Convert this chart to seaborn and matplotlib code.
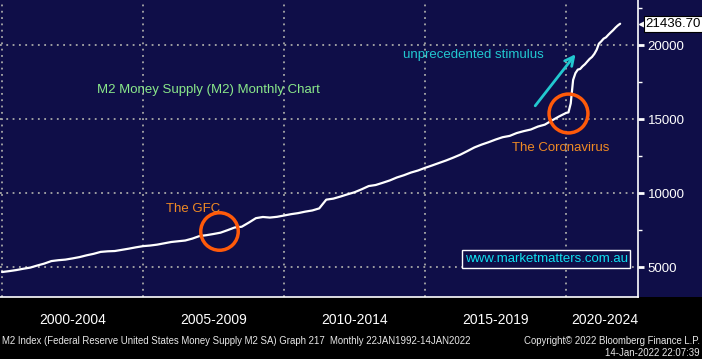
import matplotlib
matplotlib.use('Agg')
import matplotlib.pyplot as plt
import matplotlib.dates as mdates
import matplotlib.transforms as mtransforms
from matplotlib.patches import Rectangle
from matplotlib.ticker import MultipleLocator
import pandas
import seaborn as sns

# M2 money supply (USD bn), quarterly to 2019, then monthly through the covid jump
datas_trimestrais = pandas.date_range('2000-01-01', '2019-10-01', freq='QS')
valores_trimestrais = [
    4660, 4720, 4790, 4880,
    4960, 5100, 5230, 5400,
    5460, 5500, 5580, 5670,
    5790, 5890, 6020, 6060,
    6080, 6160, 6240, 6330,
    6410, 6450, 6510, 6600,
    6690, 6740, 6790, 6920,
    7090, 7150, 7230, 7320,
    7490, 7670, 7720, 8000,
    8300, 8380, 8340, 8390,
    8480, 8570, 8640, 8740,
    8820, 8960, 9550, 9620,
    9760, 9910, 10050, 10250,
    10470, 10540, 10690, 10850,
    11050, 11200, 11380, 11520,
    11700, 11860, 12030, 12200,
    12390, 12590, 12830, 13080,
    13270, 13430, 13610, 13770,
    13860, 14050, 14180, 14290,
    14490, 14620, 14900, 15170,
]
datas_mensais = pandas.date_range('2020-01-01', '2021-12-01', freq='MS')
valores_mensais = [
    15410, 15450, 16050, 17640, 18100, 18340, 18380, 18560, 18700, 18880, 19060, 19190,
    19400, 19690, 20090, 20250, 20430, 20520, 20690, 20850, 21000, 21170, 21320, 21436.70,
]
ultimo_valor = 21436.70

rotulos_periodo = ['2000-2004', '2005-2009', '2010-2014', '2015-2019', '2020-2024']
posicoes_periodo = ['2002-07-01', '2007-07-01', '2012-07-01', '2017-07-01', '2021-05-20']

df = pandas.DataFrame({
    'data': list(datas_trimestrais) + list(datas_mensais),
    'm2': valores_trimestrais + valores_mensais,
})

azul = '#0f0e48'
laranja = '#f08a24'
circulo = '#ff5a0a'
ciano = '#22c8d0'

sns.set_style('dark')
plt.rcParams['font.family'] = ['Liberation Sans', 'DejaVu Sans']

fig = plt.figure(figsize=(7.02, 3.59), dpi=100, facecolor='black')
ax = fig.add_axes([0, 0.1727, 0.9088, 0.8273])
ax.set_facecolor(azul)
fig.add_artist(Rectangle((0.9088, 0.1727), 0.0912, 0.8273, transform=fig.transFigure,
                         facecolor=azul, edgecolor='none', zorder=-1))

sns.lineplot(data=df, x='data', y='m2', ax=ax, color='white', lw=1.6)

ax.set_xlim(pandas.Timestamp('1999-12-06'), pandas.Timestamp('2022-07-20'))
ax.set_ylim(2973, 23041)
ax.set_xlabel('')
ax.set_ylabel('')

# eixo x
ax.xaxis.set_major_locator(mdates.YearLocator(5))
ax.xaxis.set_minor_locator(mdates.YearLocator(1))
ax.set_xticklabels([])
ax.tick_params(axis='x', which='major', direction='out', length=26, width=0.8, color='#8a8a8a')
ax.tick_params(axis='x', which='minor', direction='out', length=3, width=1, color='white')

# eixo y
ax.yaxis.tick_right()
ax.yaxis.set_major_locator(MultipleLocator(5000))
ax.yaxis.set_minor_locator(MultipleLocator(2500))
ax.tick_params(axis='y', which='major', direction='out', length=4, width=2, color='white',
               labelcolor='white', labelsize=9.5, pad=3)
ax.tick_params(axis='y', which='minor', direction='out', length=3, width=1, color='white')

ax.grid(True, which='major', color='#a8a8a8', linestyle=(0, (1, 2.5)), linewidth=1.3)
for lado in ['top', 'left']:
    ax.spines[lado].set_visible(False)
for lado in ['right', 'bottom']:
    ax.spines[lado].set_visible(True)
    ax.spines[lado].set_color('white')
    ax.spines[lado].set_linewidth(1.2)

# rotulo do ultimo valor
ax.text(1.012, ultimo_valor, f'{ultimo_valor:.2f}', transform=ax.get_yaxis_transform(),
        va='center', ha='left', fontsize=9.5, color='black', clip_on=False,
        bbox=dict(boxstyle='square,pad=0.15', facecolor='white', edgecolor='black', lw=0.8))
ax.plot([1.006], [ultimo_valor], marker='<', color='white', ms=5,
        transform=ax.get_yaxis_transform(), clip_on=False)

# rotulos dos periodos
misto = mtransforms.blended_transform_factory(ax.transData, fig.transFigure)
for rotulo, pos in zip(rotulos_periodo, posicoes_periodo):
    ax.text(pandas.Timestamp(pos), 0.109, rotulo, transform=misto, ha='center', va='center',
            fontsize=10, color='white')

# anotacoes
ax.text(0.152, 0.697, 'M2 Money Supply (M2) Monthly Chart', transform=ax.transAxes,
        color='#8ae88a', fontsize=9.5, va='center')
ax.text(0.260, 0.296, 'The GFC', transform=ax.transAxes, color=laranja, fontsize=9.5, va='center')
ax.text(0.8025, 0.502, 'The Coronavirus', transform=ax.transAxes, color=laranja, fontsize=9.5,
        va='center')
ax.text(0.632, 0.815, 'unprecedented stimulus', transform=ax.transAxes, color=ciano,
        fontsize=9.5, va='center')

ax.plot([pandas.Timestamp('2007-09-05')], [7432], marker='o', ms=27, mfc='none', mec=circulo, mew=2.5)
ax.plot([pandas.Timestamp('2020-02-01')], [15427], marker='o', ms=28, mfc='none', mec=circulo, mew=2.5)
ax.annotate('', xy=(pandas.Timestamp('2020-05-25'), 19527), xytext=(pandas.Timestamp('2018-11-05'), 15744),
            arrowprops=dict(arrowstyle='->', color=ciano, lw=2, mutation_scale=16))

ax.text(0.856, 0.128, 'www.marketmatters.com.au', transform=ax.transAxes, color='#10e0f0',
        fontsize=9.5, ha='center', va='center',
        bbox=dict(boxstyle='square,pad=0.2', facecolor=azul, edgecolor='white', lw=1))

# rodape
fig.text(0.003, 0.05, 'M2 Index (Federal Reserve United States Money Supply M2 SA) Graph 217  '
         'Monthly 22JAN1992-14JAN2022', color='#e8e8e8', fontsize=6.9, va='center')
fig.text(0.997, 0.05, 'Copyright© 2022 Bloomberg Finance L.P.', color='#e8e8e8', fontsize=6.9,
         va='center', ha='right')
fig.text(0.997, 0.017, '14-Jan-2022 22:07:39', color='#e8e8e8', fontsize=6.9, va='center',
         ha='right')

plt.savefig('out.png', dpi=100, facecolor='black')
